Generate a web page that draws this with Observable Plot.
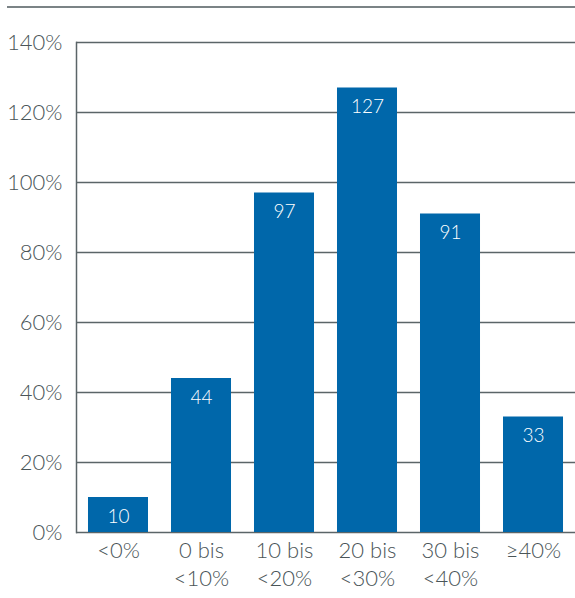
<!DOCTYPE html>
<html>
<head>
<meta charset="utf-8">
<script src="https://cdn.jsdelivr.net/npm/d3@7"></script>
<script src="https://cdn.jsdelivr.net/npm/@observablehq/plot@0.6"></script>
<style>
  html, body { margin: 0; padding: 0; background: #fff; }
  #wrap { position: relative; width: 575px; height: 598px; }
  #topline { position: absolute; top: 6px; left: 7px; width: 568px; border-top: 2px solid #7b8386; }
  svg { display: block; }
</style>
</head>
<body>
<div id="wrap"><div id="topline"></div><div id="chart"></div></div>
<script>
const categories = ["<0%", "0 bis\n<10%", "10 bis\n<20%", "20 bis\n<30%", "30 bis\n<40%", "≥40%"];
const values = [10, 44, 97, 127, 91, 33];
const yTicks = [0, 20, 40, 60, 80, 100, 120, 140];

const data = categories.map((c, i) => ({cat: c, value: values[i]}));
const grey = "#5b6568";
const textGrey = "#4a5558";
const blue = "#0067aa";

const chart = Plot.plot({
  width: 575,
  height: 598,
  marginLeft: 76,
  marginRight: 0,
  marginTop: 42,
  marginBottom: 66,
  style: {fontFamily: "Lato, 'Open Sans', sans-serif", fontSize: "22px", fontWeight: 300, color: textGrey, background: "transparent"},
  x: {domain: categories, range: [65, 586], padding: 0.277, round: false, label: null},
  y: {domain: [0, 140], label: null},
  marks: [
    Plot.gridY(yTicks, {stroke: grey, strokeOpacity: 1, strokeWidth: 1.5}),
    Plot.frame({anchor: "left", stroke: grey, strokeWidth: 1.5}),
    Plot.barY(data, {x: "cat", y: "value", fill: blue}),
    Plot.text(data, {x: "cat", y: "value", text: d => String(d.value), fill: "white", fontSize: 19, fontWeight: 300, dy: 19, lineAnchor: "middle"}),
    Plot.axisY(yTicks, {tickSize: 0, tickPadding: 14, tickFormat: d => d + "%", fontSize: 22, fontWeight: 300, fill: textGrey}),
    Plot.axisX({tickSize: 0, tickPadding: 6, fontSize: 22, fontWeight: 300, fill: textGrey, lineHeight: 1.27})
  ]
});
document.getElementById("chart").appendChild(chart);
</script>
</body>
</html>
